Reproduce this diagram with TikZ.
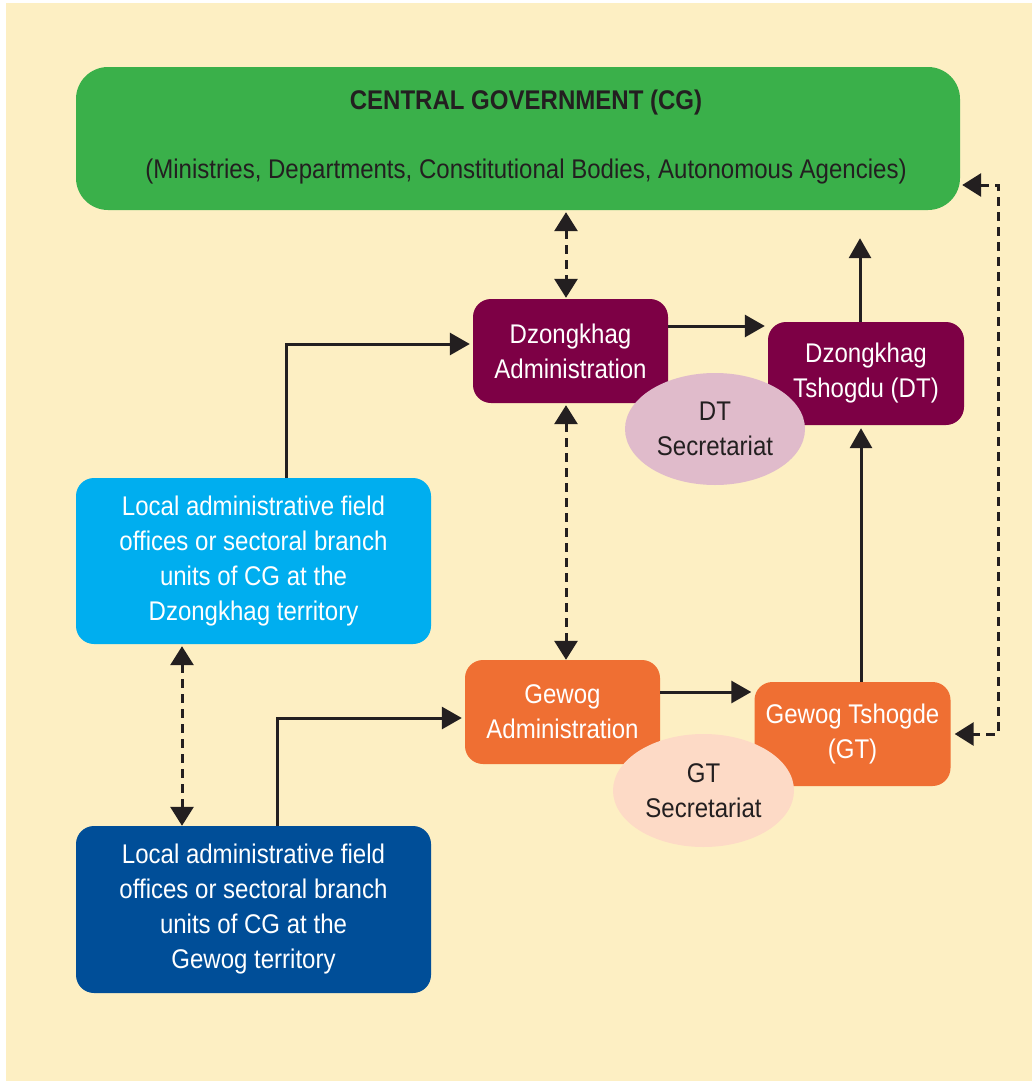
\documentclass[tikz,border=0pt]{standalone}
\usepackage{fontspec}
\setmainfont{Liberation Sans}[FakeStretch=0.89]
\usetikzlibrary{arrows.meta,calc,shapes.geometric}
\definecolor{cream}{RGB}{253,239,195}
\definecolor{cggreen}{RGB}{58,176,74}
\definecolor{dzmag}{RGB}{125,0,69}
\definecolor{dtpink}{RGB}{224,187,203}
\definecolor{lblue}{RGB}{0,174,239}
\definecolor{dblue}{RGB}{0,78,152}
\definecolor{gorange}{RGB}{239,111,51}
\definecolor{gpeach}{RGB}{253,218,198}
\definecolor{ink}{RGB}{35,31,32}
\tikzset{
  txt/.style={font=\fontsize{27}{35}\selectfont, align=center, inner sep=0pt},
  box/.style={txt, rounded corners=18pt, text=white},
  sec/.style={txt, ellipse, text=ink},
  arr/.style={draw=ink, line width=3pt, -{Triangle[length=20pt,width=22pt]}},
  dboth/.style={draw=ink, line width=3pt, dash pattern=on 9pt off 6pt,
    {Triangle[length=19pt,width=23pt]}-{Triangle[length=19pt,width=23pt]}},
}
\begin{document}
\begin{tikzpicture}[x=1pt,y=-1pt]
\useasboundingbox (0,0) rectangle (1032,1084);
\fill[white] (0,0) rectangle (1032,1084);
\fill[cream] (6,3) rectangle (1032,1081);

% Central government
\node[box, rounded corners=32pt, fill=cggreen, minimum width=884pt, minimum height=143pt] (CG) at (518,138.5) {};
\node[txt, text=ink, font=\fontsize{27}{35}\selectfont\bfseries] (CGt) at (526,103) {CENTRAL GOVERNMENT (CG)};
\node[txt, text=ink] (CGs) at (526,172) {(Ministries, Departments, Constitutional Bodies, Autonomous Agencies)};

% Dzongkhag level
\node[box, fill=dzmag, minimum width=195pt, minimum height=104pt] (DzA) at (570.5,351) {Dzongkhag\\Administration};
\node[box, fill=dzmag, minimum width=196pt, minimum height=103pt] (DT) at (866,373.5) {Dzongkhag\\Tshogdu (DT)};
\node[box, fill=lblue, minimum width=355pt, minimum height=166pt] (LB) at (253.5,561) {Local administrative field\\offices or sectoral branch\\units of CG at the\\Dzongkhag territory};

% Gewog level
\node[box, fill=gorange, minimum width=195pt, minimum height=104pt] (GA) at (562.5,712) {Gewog\\Administration};
\node[box, fill=gorange, minimum width=196pt, minimum height=104pt] (GT) at (852.5,734) {Gewog Tshogde\\(GT)};
\node[box, fill=dblue, minimum width=355pt, minimum height=167pt] (DB) at (253.5,909.5) {Local administrative field\\offices or sectoral branch\\units of CG at the\\Gewog territory};

% Secretariats
\node[sec, fill=dtpink, minimum width=180pt, minimum height=112pt] (DTS) at (715,429) {\rule{0pt}{10pt}DT\\Secretariat};
\node[sec, fill=gpeach, minimum width=181pt, minimum height=113pt] (GTS) at (703.5,790.5) {GT\\Secretariat};

% Connectors
\draw[dboth, shorten <=2pt, shorten >=1pt] ([xshift=-4.5pt]DzA.north |- CG.south) -- ([xshift=-4.5pt]DzA.north);
\draw[arr, shorten >=3pt] ([yshift=25pt]DzA.east) -- ([yshift=25pt]DzA.east -| DT.west);
\draw[arr, shorten >=28pt] ([xshift=-6pt]DT.north) -- ([xshift=-6pt]DT.north |- CG.south);
\draw[arr, shorten >=3pt] ([xshift=32.5pt]LB.north) |- ([yshift=7pt]DzA.west);
\draw[dboth, shorten <=2pt, shorten >=0pt] ([xshift=-4.5pt]DzA.south) -- ([xshift=-4.5pt]DzA.south |- GA.north);
\draw[dboth, shorten <=2pt, shorten >=0pt] ([xshift=-71.5pt]LB.south) -- ([xshift=-71.5pt]LB.south |- DB.north);
\draw[arr, shorten >=3pt] ([xshift=23.5pt]DB.north) |- ([yshift=-6pt]GA.west);
\draw[arr, shorten >=3pt] ([yshift=20pt]GA.east) -- ([yshift=20pt]GA.east -| GT.west);
\draw[arr, shorten >=3pt] ([xshift=8.5pt]GT.north) -- ([xshift=8.5pt]GT.north |- DT.south);
\draw[dboth, shorten <=2pt, shorten >=4pt] ([yshift=-46.5pt]CG.east) -- ++(38,0) |- (GT.east);
\end{tikzpicture}
\end{document}
